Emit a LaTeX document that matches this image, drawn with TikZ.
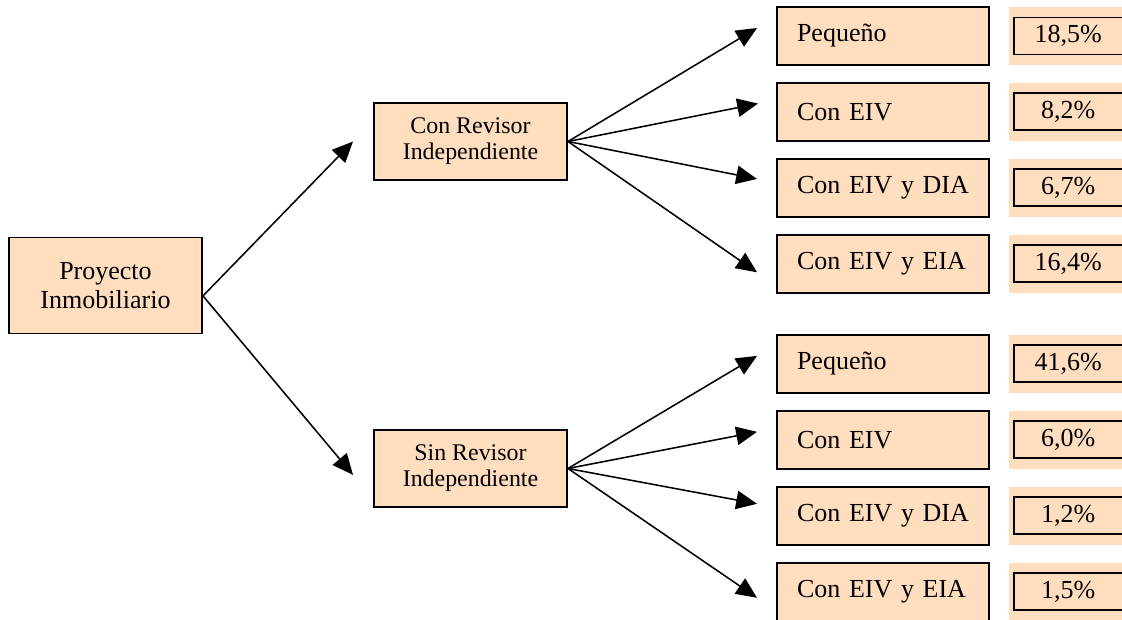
\documentclass[tikz,border=0pt]{standalone}
\usepackage{fontspec}
\setmainfont{Liberation Serif}
\usepackage{tikz}
\usetikzlibrary{arrows.meta, positioning}
\definecolor{peach}{RGB}{255,221,191}

\begin{document}
\begin{tikzpicture}[
    % cajas y flechas del arbol de decision
    node distance=0.4cm and 0.475cm,
    every node/.style={font=\fontsize{18.5}{21}\selectfont},
    root/.style={rectangle, draw=black, fill=peach, line width=1.4pt, minimum width=4.825cm, minimum height=2.4cm, align=center},
    branch/.style={rectangle, draw=black, fill=peach, line width=1.4pt, minimum width=4.825cm, minimum height=1.925cm, align=center, font=\fontsize{17}{18.5}\selectfont},
    leaf/.style={rectangle, draw=black, fill=peach, line width=1.4pt, inner xsep=0.5cm, text width=4.3cm, minimum height=1.45cm, align=left},
    pctbg/.style={rectangle, fill=peach, minimum width=2.95cm, minimum height=1.45cm},
    pct/.style={rectangle, draw=black, fill=peach, line width=1.4pt, minimum width=2.725cm, minimum height=0.925cm, inner sep=0pt},
    arrow/.style={line width=1.1pt, -{Triangle[length=0.52cm, width=0.46cm]}}
]
    \useasboundingbox (0,0) rectangle (28.05,-15.5);

    % --- Nodos principales ---
    \node[root] (proy) at (2.6375,-7.1375) {Proyecto\\Inmobiliario};
    \node[branch] (conrev) at (11.7625,-3.5375) {Con Revisor\\Independiente};
    \node[branch] (sinrev) at (11.7625,-11.7125) {Sin Revisor\\Independiente};

    % --- Hojas: con revisor ---
    \node[leaf] (c1) at (22.075,-0.9) {Pequeño};
    \node[leaf, below=of c1] (c2) {Con EIV};
    \node[leaf, below=of c2] (c3) {Con EIV y DIA};
    \node[leaf, below=of c3] (c4) {Con EIV y EIA};

    % --- Hojas: sin revisor ---
    \node[leaf, below=1.0cm of c4] (s1) {Pequeño};
    \node[leaf, below=of s1] (s2) {Con EIV};
    \node[leaf, below=of s2] (s3) {Con EIV y DIA};
    \node[leaf, below=of s3] (s4) {Con EIV y EIA};

    % --- Porcentajes ---
    \node[pctbg, right=of c1] (c1bg) {};
    \node[pct] (c1v) at (c1bg) {18,5\%};
    \node[pctbg, right=of c2] (c2bg) {};
    \node[pct] (c2v) at (c2bg) {8,2\%};
    \node[pctbg, right=of c3] (c3bg) {};
    \node[pct] (c3v) at (c3bg) {6,7\%};
    \node[pctbg, right=of c4] (c4bg) {};
    \node[pct] (c4v) at (c4bg) {16,4\%};
    \node[pctbg, right=of s1] (s1bg) {};
    \node[pct] (s1v) at (s1bg) {41,6\%};
    \node[pctbg, right=of s2] (s2bg) {};
    \node[pct] (s2v) at (s2bg) {6,0\%};
    \node[pctbg, right=of s3] (s3bg) {};
    \node[pct] (s3v) at (s3bg) {1,2\%};
    \node[pctbg, right=of s4] (s4bg) {};
    \node[pct] (s4v) at (s4bg) {1,5\%};

    % --- Flechas ---
    \draw[arrow] ([yshift=-0.26cm]proy.east) -- ([xshift=-0.5cm]conrev.west);
    \draw[arrow] ([yshift=-0.26cm]proy.east) -- ([shift={(-0.5,-0.16)}]sinrev.west);

    \draw[arrow] (conrev.east) -- ([shift={(-0.475,0.2)}]c1.west);
    \draw[arrow] (conrev.east) -- ([shift={(-0.45,0.21)}]c2.west);
    \draw[arrow] (conrev.east) -- ([shift={(-0.475,0.225)}]c3.west);
    \draw[arrow] (conrev.east) -- ([shift={(-0.475,-0.21)}]c4.west);

    \draw[arrow] (sinrev.east) -- ([shift={(-0.475,0.2)}]s1.west);
    \draw[arrow] (sinrev.east) -- ([shift={(-0.475,0.2)}]s2.west);
    \draw[arrow] (sinrev.east) -- ([shift={(-0.475,0.3)}]s3.west);
    \draw[arrow] (sinrev.east) -- ([shift={(-0.475,-0.15)}]s4.west);
\end{tikzpicture}
\end{document}
